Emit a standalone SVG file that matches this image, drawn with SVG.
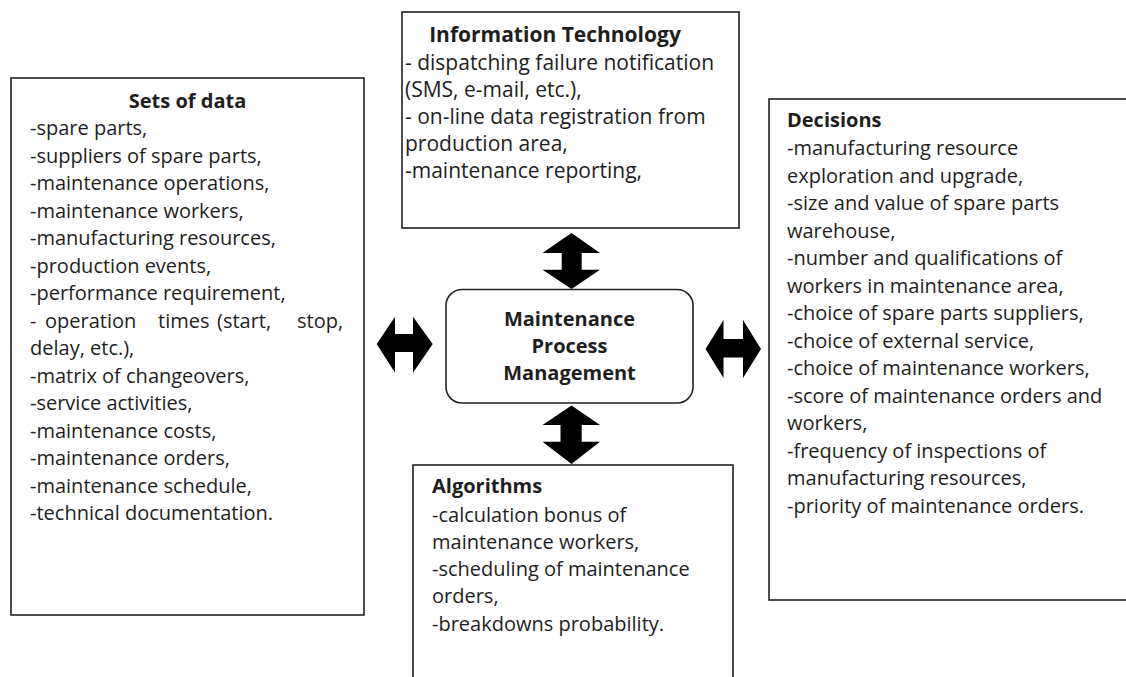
<svg xmlns="http://www.w3.org/2000/svg" width="1126" height="677" viewBox="0 0 1126 677">
<style>
.box{fill:#fff;stroke:#222;stroke-width:1.6}
.t{font-family:"Open Sans","Noto Sans",sans-serif;font-size:20px;fill:#1e1e1e}
.it{font-size:21px}
.b{font-weight:bold}
.c{text-anchor:middle}
.arr{fill:#000}
</style>
<rect width="1126" height="677" fill="#fff"/>
<g id="sets-of-data">
<rect class="box" x="11" y="78" width="353" height="537"/>
<text class="t b c" x="187.5" y="107.5">Sets of data</text>
<text class="t" x="30" y="135">-spare parts,</text>
<text class="t" x="30" y="162.5">-suppliers of spare parts,</text>
<text class="t" x="30" y="190">-maintenance operations,</text>
<text class="t" x="30" y="217.5">-maintenance workers,</text>
<text class="t" x="30" y="245">-manufacturing resources,</text>
<text class="t" x="30" y="272.5">-production events,</text>
<text class="t" x="30" y="300">-performance requirement,</text>
<text class="t" y="327.5"><tspan x="30">-</tspan><tspan x="45">operation</tspan><tspan x="158">times</tspan><tspan x="217">(start,</tspan><tspan x="297">stop,</tspan></text>
<text class="t" x="30" y="355">delay, etc.),</text>
<text class="t" x="30" y="382.5">-matrix of changeovers,</text>
<text class="t" x="30" y="410">-service activities,</text>
<text class="t" x="30" y="437.5">-maintenance costs,</text>
<text class="t" x="30" y="465">-maintenance orders,</text>
<text class="t" x="30" y="492.5">-maintenance schedule,</text>
<text class="t" x="30" y="520">-technical documentation.</text>
</g>
<g id="information-technology">
<rect class="box" x="402" y="12" width="337" height="216"/>
<text class="t it b c" x="555" y="41.5">Information Technology</text>
<text class="t it" x="405" y="69.5">- dispatching failure notification</text>
<text class="t it" x="405" y="96.5">(SMS, e-mail, etc.),</text>
<text class="t it" x="405" y="123.5">- on-line data registration from</text>
<text class="t it" x="405" y="150.5">production area,</text>
<text class="t it" x="405" y="177.5">-maintenance reporting,</text>
</g>
<g id="decisions">
<rect class="box" x="769" y="99" width="360" height="501"/>
<text class="t b" x="787" y="127">Decisions</text>
<text class="t" x="787" y="155">-manufacturing resource</text>
<text class="t" x="787" y="182.5">exploration and upgrade,</text>
<text class="t" x="787" y="210">-size and value of spare parts</text>
<text class="t" x="787" y="237.5">warehouse,</text>
<text class="t" x="787" y="265">-number and qualifications of</text>
<text class="t" x="787" y="292.5">workers in maintenance area,</text>
<text class="t" x="787" y="320">-choice of spare parts suppliers,</text>
<text class="t" x="787" y="347.5">-choice of external service,</text>
<text class="t" x="787" y="375">-choice of maintenance workers,</text>
<text class="t" x="787" y="402.5">-score of maintenance orders and</text>
<text class="t" x="787" y="430">workers,</text>
<text class="t" x="787" y="457.5">-frequency of inspections of</text>
<text class="t" x="787" y="485">manufacturing resources,</text>
<text class="t" x="787" y="512.5">-priority of maintenance orders.</text>
</g>
<g id="algorithms">
<rect class="box" x="413" y="465" width="320" height="220"/>
<text class="t b" x="432" y="493">Algorithms</text>
<text class="t" x="432" y="522">-calculation bonus of</text>
<text class="t" x="432" y="549">maintenance workers,</text>
<text class="t" x="432" y="576">-scheduling of maintenance</text>
<text class="t" x="432" y="603">orders,</text>
<text class="t" x="432" y="631">-breakdowns probability.</text>
</g>
<g id="maintenance-process-management">
<rect class="box" x="446" y="289.5" width="247" height="113.5" rx="16" ry="16"/>
<text class="t b c" x="569.5" y="326">Maintenance</text>
<text class="t b c" x="569.5" y="353">Process</text>
<text class="t b c" x="569.5" y="380">Management</text>
</g>
<g id="connectors">
<polygon class="arr" points="571.5,233 600,253 581.7,253 581.7,269.7 600,269.7 571.5,289 542.5,269.7 561.7,269.7 561.7,253 542.5,253"/>
<polygon class="arr" points="571.5,405.5 600,425 581.7,425 581.7,441.7 600,441.7 571.5,464 542.5,441.7 560.5,441.7 560.5,425 542.5,425"/>
<polygon class="arr" points="376.7,344 395,316.7 395,334 413,334 413,316.7 432.7,344 413,372.7 413,352 395,352 395,372.7"/>
<polygon class="arr" points="705.5,349 723.5,320 723.5,339 743,339 743,320 761,349 743,378 743,357.5 723.5,357.5 723.5,378"/>
</g>
</svg>
